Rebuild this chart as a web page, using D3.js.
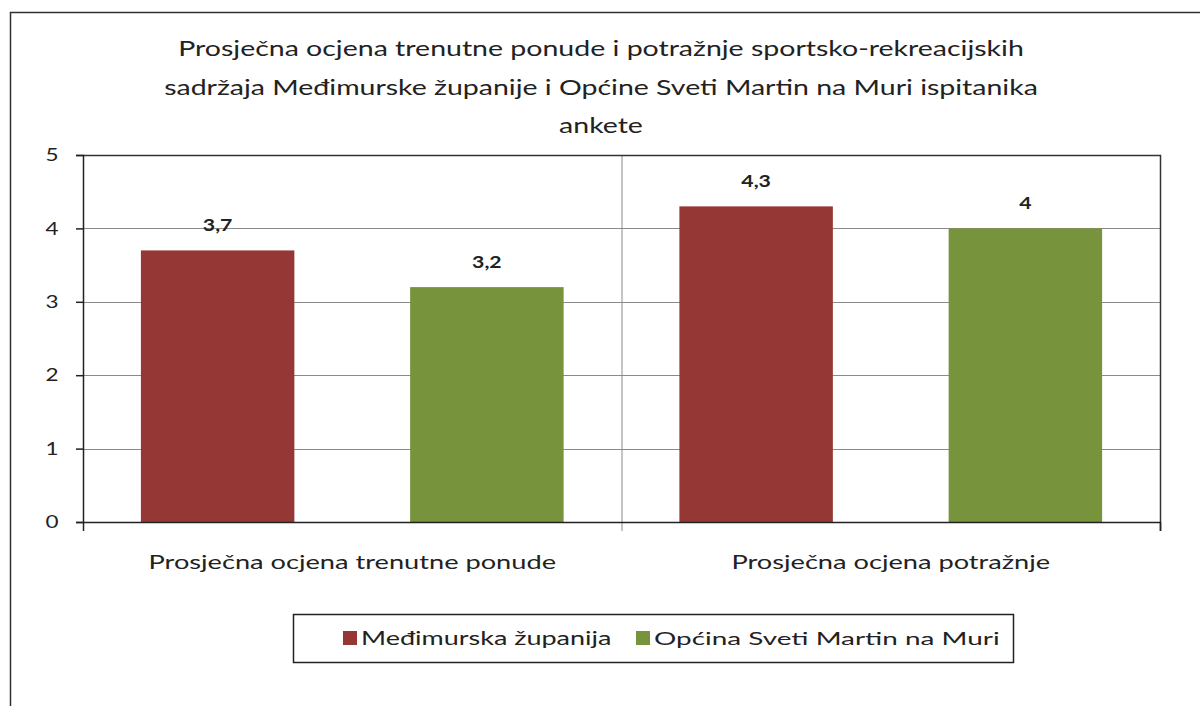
<!DOCTYPE html>
<html>
<head>
<meta charset="utf-8">
<script src="https://cdn.jsdelivr.net/npm/d3@7"></script>
<style>
  html, body { margin: 0; padding: 0; background: #fff; }
  svg { display: block; font-family: "Lato", "Open Sans", sans-serif; }
</style>
</head>
<body>
<svg id="chart" width="1200" height="706"></svg>
<script>
// ---- data ----
const titleLines = [
  "Prosječna ocjena trenutne  ponude  i potražnje sportsko-rekreacijskih",
  "sadržaja Međimurske županije i Općine Sveti Martin na Muri ispitanika",
  "ankete"
];
const categories = ["Prosječna ocjena trenutne ponude", "Prosječna ocjena potražnje"];
const seriesNames = ["Međimurska županija", "Općina Sveti Martin na Muri"];
const medimurskaValues = [3.7, 4.3];
const opcinaValues = [3.2, 4];
const valueLabels = [["3,7", "4,3"], ["3,2", "4"]];
const yTicks = [0, 1, 2, 3, 4, 5];
const seriesColors = ["#953735", "#77933C"];

const seriesValues = [medimurskaValues, opcinaValues];

// ---- helpers ----
// the reference picture is horizontally stretched; mimic it on text
function stretch(sel, sx) {
  sel.each(function () {
    const t = d3.select(this);
    const x = +t.attr("x") || 0, y = +t.attr("y") || 0;
    t.attr("x", 0).attr("y", 0)
     .attr("transform", `translate(${x},${y}) scale(${sx},1)`);
  });
}

// ---- layout ----
const svg = d3.select("#chart");
const plot = { left: 83, right: 1160, top: 155, bottom: 522 };

// outer chart border (cropped on right & bottom)
svg.append("path")
  .attr("d", "M10.5,706 L10.5,12.5 L1200,12.5")
  .attr("fill", "none").attr("stroke", "#303030").attr("stroke-width", 1.5);

// title
svg.append("g").selectAll("text").data(titleLines).join("text")
  .attr("x", 601).attr("y", (d, i) => 56 + i * 38.5)
  .attr("text-anchor", "middle")
  .attr("font-size", 20.5)
  .attr("fill", "#222")
  .text(d => d)
  .call(stretch, 1.39);

const x0 = d3.scaleBand().domain(categories).range([plot.left, plot.right]).padding(0);
const x1 = d3.scaleBand().domain(d3.range(seriesNames.length))
  .range([0, x0.bandwidth()]).paddingInner(0.43).paddingOuter(0.215);
const y = d3.scaleLinear().domain([0, 5]).range([plot.bottom, plot.top]);

// gridlines
svg.append("g").selectAll("line").data(yTicks.filter(t => t > 0 && t < 5)).join("line")
  .attr("x1", plot.left).attr("x2", plot.right)
  .attr("y1", d => Math.round(y(d)) + 0.5).attr("y2", d => Math.round(y(d)) + 0.5)
  .attr("stroke", "#8a8a8a").attr("stroke-width", 1);

// category separator
svg.append("line")
  .attr("x1", x0(categories[1]) + 0.5).attr("x2", x0(categories[1]) + 0.5)
  .attr("y1", plot.top).attr("y2", plot.bottom + 9)
  .attr("stroke", "#8a8a8a");

// plot border top/right
svg.append("path")
  .attr("d", `M${plot.left},${plot.top + 0.5} L${plot.right + 0.5},${plot.top + 0.5} L${plot.right + 0.5},${plot.bottom + 9}`)
  .attr("fill", "none").attr("stroke", "#333").attr("stroke-width", 1.5);

// bars
const groups = svg.append("g").selectAll("g").data(categories).join("g")
  .attr("transform", d => `translate(${x0(d)},0)`);
groups.selectAll("rect").data((c, ci) => seriesValues.map((vals, si) => ({ si, ci, v: vals[ci] })))
  .join("rect")
  .attr("x", d => x1(d.si))
  .attr("width", x1.bandwidth())
  .attr("y", d => y(d.v))
  .attr("height", d => y(0) - y(d.v))
  .attr("fill", d => seriesColors[d.si]);

// value labels
groups.selectAll("text").data((c, ci) => seriesValues.map((vals, si) => ({ si, ci, v: vals[ci] })))
  .join("text")
  .attr("x", d => x1(d.si) + x1.bandwidth() / 2)
  .attr("y", d => y(d.v) - 19)
  .attr("text-anchor", "middle")
  .attr("font-size", 17).attr("font-weight", "bold")
  .attr("fill", "#222")
  .text(d => valueLabels[d.si][d.ci])
  .call(stretch, 1.25);

// y axis
const yAxis = svg.append("g").attr("transform", `translate(${plot.left},0)`)
  .call(d3.axisLeft(y).tickValues(yTicks).tickSize(7).tickPadding(18).tickFormat(d3.format("d")));
yAxis.select(".domain").attr("stroke", "#222").attr("stroke-width", 1.5);
yAxis.selectAll(".tick line").attr("stroke", "#222").attr("stroke-width", 1.5);
yAxis.selectAll(".tick text").attr("font-size", 18).attr("fill", "#222")
  .attr("font-family", "Lato, sans-serif")
  .attr("text-anchor", "middle").attr("x", -31)
  .call(stretch, 1.25);

// x axis
const xAxis = svg.append("g").attr("transform", `translate(0,${plot.bottom})`)
  .call(d3.axisBottom(x0).tickSize(0).tickPadding(33));
xAxis.select(".domain").attr("stroke", "#222").attr("stroke-width", 1.5);
xAxis.selectAll(".tick text").attr("font-size", 20).attr("fill", "#222")
  .attr("font-family", "Lato, sans-serif")
  .call(stretch, 1.36);
svg.append("g").selectAll("line").data([plot.left, plot.right]).join("line")
  .attr("x1", d => d + 0.5).attr("x2", d => d + 0.5)
  .attr("y1", plot.bottom).attr("y2", plot.bottom + 9)
  .attr("stroke", "#222").attr("stroke-width", 1.5);

// legend
const legend = svg.append("g");
legend.append("rect")
  .attr("x", 293.5).attr("y", 614.5).attr("width", 720).attr("height", 48)
  .attr("fill", "#fff").attr("stroke", "#222").attr("stroke-width", 1.5);
const legendX = [343, 636];
const legendFont = [20, 18];
const legendStretch = [1.35, 1.55];
const items = legend.selectAll("g").data(seriesNames).join("g")
  .attr("transform", (d, i) => `translate(${legendX[i]},638)`);
items.append("rect").attr("x", 0).attr("y", -7).attr("width", 14).attr("height", 14)
  .attr("fill", (d, i) => seriesColors[i]);
items.append("text").attr("x", 18).attr("y", 7)
  .attr("font-size", (d, i) => legendFont[i]).attr("fill", "#222")
  .text(d => d)
  .each(function (d, i) { d3.select(this).call(stretch, legendStretch[i]); });
</script>
</body>
</html>
